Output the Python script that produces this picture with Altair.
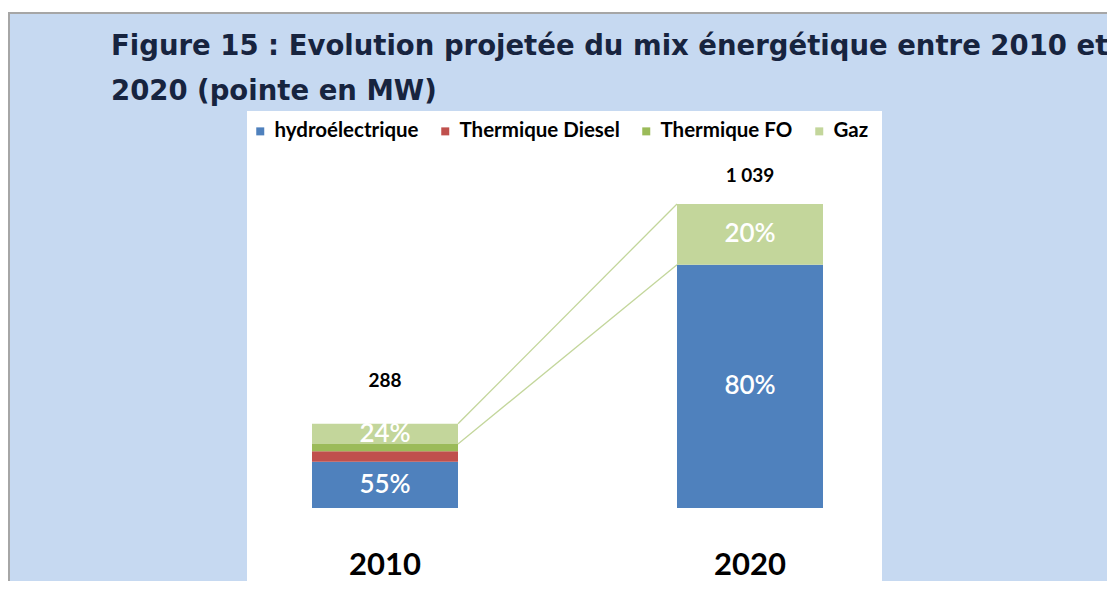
import altair as alt
import pandas as pd

years = ["2010", "2020"]
sources = ["hydroélectrique", "Thermique Diesel", "Thermique FO", "Gaz"]
hydro = [158, 831]
diesel = [36, 0]
fo = [25, 0]
gaz = [69, 208]
colors = ["#4F81BD", "#C0504D", "#9BBB59", "#C3D69B"]
labelled = ["hydroélectrique", "Gaz"]
title_lines = ["Figure 15 : Evolution projetée du mix énergétique entre 2010 et",
               "2020 (pointe en MW)"]

series = [hydro, diesel, fo, gaz]
rows = []
for i, y in enumerate(years):
    for k, s in enumerate(sources):
        rows.append({"year": y, "source": s, "value": series[k][i], "ord": k})
df = pd.DataFrame(rows)

totals = [sum(s[i] for s in series) for i in range(len(years))]
tot_df = pd.DataFrame({"year": years, "total": totals})

rules_df = pd.DataFrame({
    "from": [years[0], years[0]],
    "to": [years[1], years[1]],
    "y1": [totals[0], totals[0] - gaz[0]],
    "y2": [totals[1], totals[1] - gaz[1]],
})

FONT = "Lato"
PH = 470

xaxis = alt.Axis(title=None, domain=False, ticks=False, labelAngle=0, offset=-31,
                 labelPadding=0, labelFont=FONT, labelFontSize=31,
                 labelFontWeight="bold", labelColor="#000000")
xscale = alt.Scale(range=[65, 576], paddingInner=0.6, paddingOuter=0)
yscale = alt.Scale(domain=[0, max(totals)], range=[397, 93], nice=False, zero=True)

bars = alt.Chart(df).mark_bar().encode(
    x=alt.X("year:N", scale=xscale, axis=xaxis),
    y=alt.Y("sum(value):Q", scale=yscale, axis=None, stack="zero"),
    color=alt.Color("source:N", sort=sources,
                    scale=alt.Scale(domain=sources, range=colors),
                    legend=alt.Legend(title=None, orient="none", legendX=3, legendY=10,
                                      direction="horizontal", symbolType="square",
                                      symbolSize=64, symbolStrokeWidth=0,
                                      labelFont=FONT, labelFontSize=20.5,
                                      labelFontWeight="bold", labelColor="#000000",
                                      columnPadding=16, labelOffset=4, labelLimit=400)),
    order=alt.Order("ord:Q", sort="ascending"),
)

pct = alt.Chart(df).transform_joinaggregate(
    total="sum(value)", groupby=["year"]
).transform_stack(
    stack="value", groupby=["year"], as_=["v0", "v1"],
    sort=[alt.SortField("ord", order="ascending")]
).transform_calculate(
    mid="(datum.v0 + datum.v1) / 2",
    label="format(datum.value / datum.total, '.0%')"
).transform_filter(
    alt.FieldOneOfPredicate(field="source", oneOf=labelled)
).mark_text(font=FONT, fontSize=26, fontWeight=600, color="white", baseline="middle").encode(
    x=alt.X("year:N", scale=xscale, axis=xaxis),
    y=alt.Y("mid:Q", scale=yscale, axis=None),
    text="label:N",
)

def total_layer(year, dy):
    return alt.Chart(tot_df).transform_filter(
        alt.datum.year == year
    ).transform_calculate(
        label="replace(format(datum.total, ','), ',', ' ')"
    ).mark_text(font=FONT, fontSize=19, fontWeight="bold", color="#000000",
                baseline="middle", dy=dy).encode(
        x=alt.X("year:N", scale=xscale, axis=xaxis),
        y=alt.Y("total:Q", scale=yscale, axis=None),
        text="label:N",
    )

rules = alt.Chart(rules_df).mark_rule(color="#C3D69B", strokeWidth=1.3).encode(
    x=alt.X("from:N", scale=xscale, axis=xaxis, bandPosition=1),
    x2=alt.X2("to:N", bandPosition=0),
    y=alt.Y("y1:Q", scale=yscale, axis=None),
    y2="y2:Q",
)

deco = pd.DataFrame({"k": [0]})
top_white = alt.Chart(deco).mark_rect(color="white").encode(
    x=alt.value(-239), x2=alt.value(870), y=alt.value(-103), y2=alt.value(-99)
)
top_grey = alt.Chart(deco).mark_rule(color="#A6A6A6", strokeWidth=2).encode(
    x=alt.value(-239), x2=alt.value(870), y=alt.value(-98), y2=alt.value(-98)
)
left_grey = alt.Chart(deco).mark_rule(color="#A6A6A6", strokeWidth=2).encode(
    x=alt.value(-238), x2=alt.value(-238), y=alt.value(-99), y2=alt.value(PH)
)

def title_text(line, ypos):
    return alt.Chart(deco).mark_text(
        font="DejaVu Sans", fontSize=27.5, fontWeight="bold", color="#17243F",
        align="left", baseline="alphabetic"
    ).encode(x=alt.value(-136), y=alt.value(ypos), text=alt.value(line))

chart = alt.layer(
    rules, bars, pct, total_layer("2010", -43), total_layer("2020", -28),
    top_white, top_grey, left_grey,
    title_text(title_lines[0], -56), title_text(title_lines[1], -11),
).properties(
    width=635, height=PH,
    padding={"left": 239, "top": 103, "right": 225, "bottom": 0},
    autosize=alt.AutoSizeParams(type="none"),
    background="#C6D9F1",
).configure_view(fill="white", stroke=None)

chart.save("out.html", embed_options={"renderer": "svg", "actions": False})
